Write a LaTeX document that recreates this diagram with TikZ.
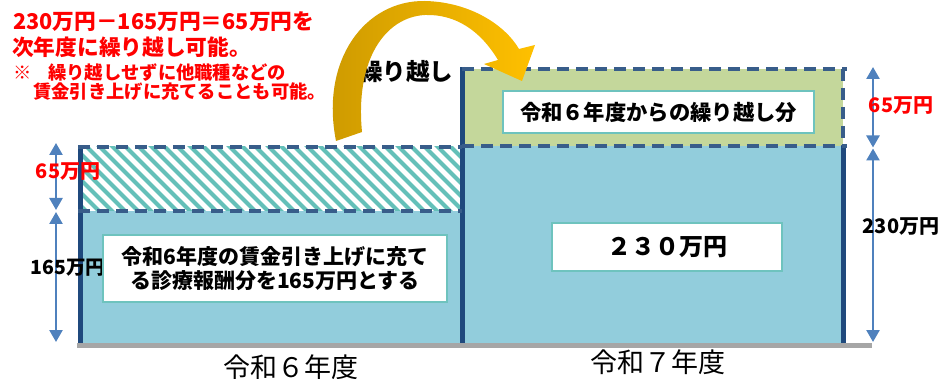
\documentclass[tikz,border=0pt]{standalone}
\usepackage{fontspec}
\setmainfont{Noto Sans CJK JP}
\usetikzlibrary{arrows.meta}
\definecolor{lblue}{RGB}{146,205,220}
\definecolor{lgreen}{RGB}{196,215,155}
\definecolor{dashc}{RGB}{56,93,138}
\definecolor{solidc}{RGB}{31,73,125}
\definecolor{arrc}{RGB}{79,129,189}
\definecolor{hatchc}{RGB}{100,192,185}
\definecolor{boxb}{RGB}{110,195,190}
\definecolor{gold1}{RGB}{204,153,0}
\definecolor{gold2}{RGB}{255,192,0}
\definecolor{basec}{RGB}{166,166,166}
\definecolor{redc}{RGB}{255,0,0}
\tikzset{
  dashln/.style={dashc, line width=4pt, dash pattern=on 12pt off 7pt},
  solidln/.style={solidc, line width=5pt},
  dimarrow/.style={arrc, line width=2.5pt, {Triangle[width=13pt,length=12pt]}-{Triangle[width=13pt,length=12pt]}},
  wbox/.style={draw=boxb, line width=1.3pt, fill=white, inner sep=0pt},
  redt/.style={text=redc, font=\bfseries, inner sep=0pt, anchor=west},
  blk/.style={text=black, font=\bfseries, inner sep=0pt},
}
\begin{document}
\begin{tikzpicture}[x=1pt,y=-1pt]
\useasboundingbox (0,0) rectangle (944,379);
% fills
\fill[lblue] (80,211) rectangle (462,343);
\begin{scope}
  \clip (80,147) rectangle (462,211);
  \foreach \i in {0,...,36} \draw[hatchc, line width=4pt] (0+\i*13,138) -- ++(82,82);
\end{scope}
\fill[lgreen] (462,69) rectangle (843,146);
\fill[lblue] (462,146) rectangle (843,343);
% baseline
\draw[basec, line width=5pt] (77,345.5) -- (872,345.5);
% solid borders
\draw[solidln] (80,147) -- (80,343);
\draw[solidln] (462,67) -- (462,343);
\draw[solidln] (843,146) -- (843,343);
% dashed borders
\draw[dashln] (78,147) -- (462,147);
\draw[dashln] (78,211) -- (462,211);
\draw[dashln] (462,69) -- (847,69);
\draw[dashln] (462,146) -- (847,146);
\draw[dashln] (843,69) -- (843,146);
% dimension arrows
\coordinate (l1) at (56,143);
\coordinate (l2) at (56,211);
\coordinate (l3) at (56,342);
\draw[dimarrow] (l1) -- (56,210);
\draw[dimarrow] (56,212) -- (l3);
\coordinate (r1) at (873,67);
\coordinate (r2) at (873,148);
\coordinate (r3) at (873,342);
\draw[dimarrow] (r1) -- (873,147.5);
\draw[dimarrow] (873,148.5) -- (r3);
% dimension labels
\node[redt, font=\bfseries\fontsize{20}{22}\selectfont, anchor=center] (l65) at (68,172) {65万円};
\node[blk, font=\bfseries\fontsize{19.5}{21}\selectfont, anchor=center] (l165) at (68,268) {165万円};
\node[redt, font=\bfseries\fontsize{20}{22}\selectfont, anchor=center] (r65) at (901,106) {65万円};
\node[blk, font=\bfseries\fontsize{20}{22}\selectfont, anchor=center] (r230) at (901,227) {230万円};
% white boxes
\node[wbox, minimum width=344pt, minimum height=67pt, align=center, font=\bfseries\fontsize{21}{24}\selectfont] (bl) at (275,268.5) {令和6年度の賃金引き上げに充て\\る診療報酬分を165万円とする};
\node[wbox, minimum width=311pt, minimum height=42pt, font=\bfseries\fontsize{21.3}{23}\selectfont] (bg) at (658.5,112) {令和６年度からの繰り越し分};
\node[wbox, minimum width=230pt, minimum height=48pt, font=\bfseries\fontsize{24}{26}\selectfont] (bb) at (667,247) {２３０万円};
% year labels
\node[inner sep=0pt, font=\fontsize{27}{29}\selectfont] (y6) at (291,367) {令和６年度};
\node[inner sep=0pt, font=\fontsize{27}{29}\selectfont] (y7) at (658,362) {令和７年度};
% red notes
\node[redt, font=\bfseries\fontsize{21.7}{23}\selectfont] (n1) at (13,22) {230万円－165万円＝65万円を};
\node[redt, font=\bfseries\fontsize{21.7}{23}\selectfont] (n2) at (12,47) {次年度に繰り越し可能。};
\node[redt, font=\bfseries\fontsize{18.3}{20}\selectfont] (n3) at (13,73) {※};
\node[redt, font=\bfseries\fontsize{18.3}{20}\selectfont] (n4) at (48,73) {繰り越しせずに他職種などの};
\node[redt, font=\bfseries\fontsize{18.3}{20}\selectfont] (n5) at (33,92) {賃金引き上げに充てることも可能。};
% carry-over label
\node[blk, font=\bfseries\fontsize{23.5}{25}\selectfont] (ck) at (406,72) {繰り越し};
% curved arrow
\shade[left color=gold1, right color=gold2]
  (336,141) .. controls (320,60) and (365,0) .. (425,1)
  .. controls (470,2) and (505,25) .. (519,49)
  -- (535,45) -- (522,81) -- (484,64) -- (498,60)
  .. controls (480,30) and (455,14) .. (425,15)
  .. controls (385,17) and (355,60) .. (362,132) -- cycle;
\end{tikzpicture}
\end{document}
